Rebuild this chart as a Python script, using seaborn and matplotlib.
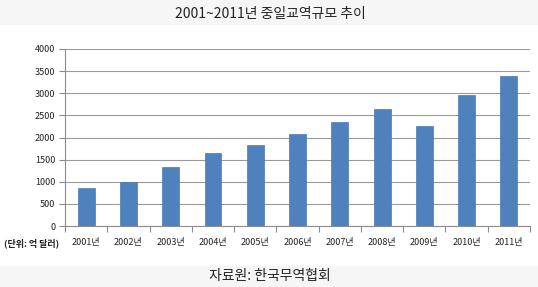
import matplotlib
matplotlib.use("Agg")
import matplotlib.pyplot as plt
import seaborn as sns
import pandas as pd
import numpy as np
from matplotlib.patches import Rectangle

years = ["2001년", "2002년", "2003년", "2004년", "2005년", "2006년",
         "2007년", "2008년", "2009년", "2010년", "2011년"]
values = [870, 1000, 1330, 1660, 1840, 2070, 2350, 2650, 2270, 2950, 3400]
yticks = [0, 500, 1000, 1500, 2000, 2500, 3000, 3500, 4000]
title = "2001~2011년 중일교역규모 추이"
unit_label = "(단위: 억 달러)"
source = "자료원: 한국무역협회"

sns.set_theme(style="white")
plt.rcParams['font.family'] = ['Noto Sans CJK KR', 'DejaVu Sans']

df = pd.DataFrame({"year": years, "value": values})

fig = plt.figure(figsize=(5.38, 2.87), dpi=100)
fig.patch.set_facecolor("white")

# header and footer bands
fig.patches.append(Rectangle((0, 1 - 25/287), 1, 25/287, transform=fig.transFigure,
                             facecolor="#f6f6f6", edgecolor="none", zorder=0))
fig.patches.append(Rectangle((0, 0), 1, 21/287, transform=fig.transFigure,
                             facecolor="#f6f6f6", edgecolor="none", zorder=0))

ax = fig.add_axes([65/538, 1 - 226/287, 465/538, 177/287])
sns.barplot(data=df, x="year", y="value", color="#4f81bd", width=0.4,
            saturation=1, ax=ax, edgecolor="#4a7ab3", linewidth=0.5)

ax.set_ylim(0, 4000)
ax.set_xlim(-0.5, len(years) - 0.5)
ax.set_yticks(yticks)
ax.set_yticklabels([str(v) for v in yticks], fontsize=6.5, color="#222222")
ax.yaxis.grid(True, color="#9a9a9a", linewidth=0.8)
ax.set_axisbelow(True)
ax.set_xlabel("")
ax.set_ylabel("")
ax.set_xticks(range(len(years)))
ax.set_xticklabels(years, fontsize=6.5, color="#222222", fontweight="medium")
ax.set_xticks(np.arange(-0.5, len(years), 1), minor=True)
ax.tick_params(axis="x", which="major", length=0, pad=9)
ax.tick_params(axis="x", which="minor", length=4, color="#8c8c8c", width=0.8, direction="out")
ax.tick_params(axis="y", which="major", length=4, color="#8c8c8c", width=0.8, direction="out", pad=3)
ax.xaxis.set_ticks_position("bottom")
ax.yaxis.set_ticks_position("left")
for s in ["top", "right"]:
    ax.spines[s].set_visible(False)
for s in ["left", "bottom"]:
    ax.spines[s].set_color("#8c8c8c")
    ax.spines[s].set_linewidth(0.8)

fig.text(270/538, 1 - 14/287, title, ha="center", va="center", fontsize=10, color="#222222")
fig.text(32/538, 1 - 243/287, unit_label, ha="center", va="center", fontsize=6.5,
         color="#222222", fontweight="bold")
fig.text(270/538, 1 - 276/287, source, ha="center", va="center", fontsize=10, color="#222222")

fig.savefig("out.png", dpi=100, facecolor="white")
